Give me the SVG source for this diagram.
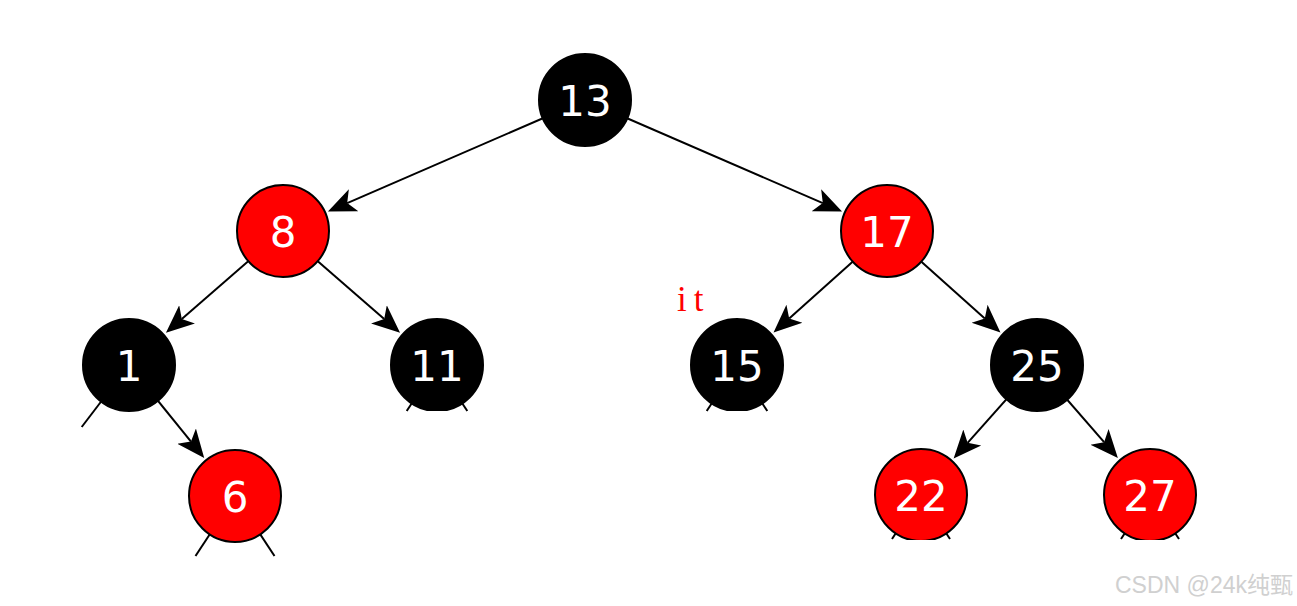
<svg xmlns="http://www.w3.org/2000/svg" width="1297" height="606" viewBox="0 0 1297 606">
<style>
.edge{stroke:#000;stroke-width:2;fill:none}
.arr{marker-end:url(#ah)}
.red{fill:#ff0000;stroke:#000;stroke-width:2}
.blk{fill:#000;stroke:#000;stroke-width:2}
.lbl{font-family:"DejaVu Sans",sans-serif;font-size:42px;fill:#fff;text-anchor:middle}
</style>
<defs>
<marker id="ah" markerUnits="userSpaceOnUse" viewBox="0 -13 29 26" markerWidth="29" markerHeight="26" refX="7" refY="0" orient="auto">
<path d="M28,0 L0,-12 L7,0 L0,12 Z" fill="#000"/>
</marker>
<clipPath id="cut540"><rect x="0" y="0" width="1297" height="540"/></clipPath>
<clipPath id="cut411"><rect x="0" y="0" width="1297" height="411"/></clipPath>
</defs>
<rect width="1297" height="606" fill="#fff"/>
<g id="connectors">
<line class="edge arr" x1="585" y1="100" x2="347.2" y2="203.1"/>
<line class="edge arr" x1="585" y1="100" x2="822.8" y2="203.1"/>
<line class="edge arr" x1="283" y1="231" x2="181.8" y2="319"/>
<line class="edge arr" x1="283" y1="231" x2="384.2" y2="319"/>
<line class="edge arr" x1="887" y1="231" x2="789.2" y2="318.4"/>
<line class="edge arr" x1="887" y1="231" x2="984.8" y2="318.4"/>
<line class="edge arr" x1="129" y1="365" x2="191" y2="441.6"/>
<line class="edge arr" x1="1037" y1="365" x2="967.6" y2="442.8"/>
<line class="edge arr" x1="1037" y1="365" x2="1104.1" y2="442.2"/>
<line class="edge" x1="129" y1="365" x2="81.7" y2="427"/>
<line class="edge" x1="437" y1="365" x2="406.7" y2="411"/>
<line class="edge" x1="437" y1="365" x2="467.3" y2="411"/>
<line class="edge" x1="737" y1="365" x2="706.7" y2="411"/>
<line class="edge" x1="737" y1="365" x2="767.3" y2="411"/>
<line class="edge" x1="235" y1="496" x2="195.5" y2="556"/>
<line class="edge" x1="235" y1="496" x2="274.5" y2="556"/>
<line class="edge" x1="921" y1="495" x2="892" y2="539"/>
<line class="edge" x1="921" y1="495" x2="950" y2="539"/>
<line class="edge" x1="1150" y1="495" x2="1121" y2="539"/>
<line class="edge" x1="1150" y1="495" x2="1179" y2="539"/>
</g>
<g id="n13"><circle class="blk" cx="585" cy="100" r="46"/><text class="lbl" x="585" y="116">13</text></g>
<g id="n8"><circle class="red" cx="283" cy="231" r="46"/><text class="lbl" x="283" y="247">8</text></g>
<g id="n17"><circle class="red" cx="887" cy="231" r="46"/><text class="lbl" x="887" y="247">17</text></g>
<g id="n1"><circle class="blk" cx="129" cy="365" r="46"/><text class="lbl" x="129" y="381">1</text></g>
<g id="n11" clip-path="url(#cut411)"><circle class="blk" cx="437" cy="365" r="46"/><text class="lbl" x="437" y="381">11</text></g>
<g id="n15" clip-path="url(#cut411)"><circle class="blk" cx="737" cy="365" r="46"/><text class="lbl" x="737" y="381">15</text></g>
<g id="n25"><circle class="blk" cx="1037" cy="365" r="46"/><text class="lbl" x="1037" y="381">25</text></g>
<g id="n6"><circle class="red" cx="235" cy="496" r="46"/><text class="lbl" x="235" y="512">6</text></g>
<g id="n22" clip-path="url(#cut540)"><circle class="red" cx="921" cy="495" r="46"/><text class="lbl" x="921" y="511">22</text></g>
<g id="n27" clip-path="url(#cut540)"><circle class="red" cx="1150" cy="495" r="46"/><text class="lbl" x="1150" y="511">27</text></g>
<text x="677" y="311" font-family="Liberation Serif, serif" font-size="35" letter-spacing="7" fill="#ff0000">it</text>
<text x="1293" y="593" font-family="Liberation Sans, Noto Sans CJK SC, sans-serif" font-size="23" fill="#d0d0d0" text-anchor="end">CSDN @24k纯甄</text>
</svg>
